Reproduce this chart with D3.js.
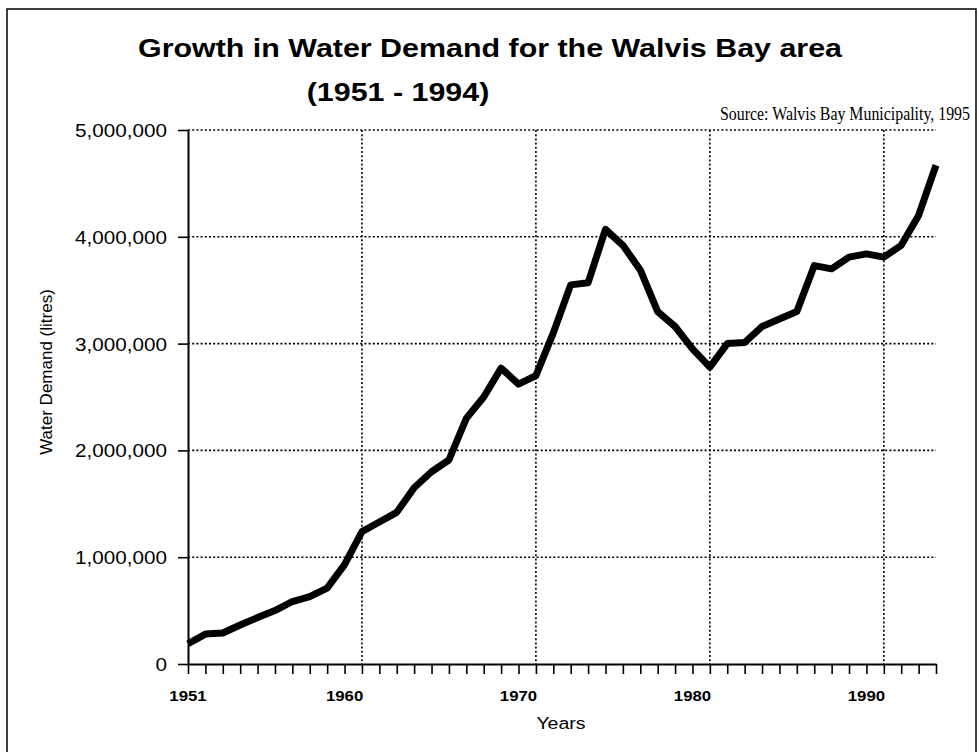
<!DOCTYPE html>
<html>
<head>
<meta charset="utf-8">
<script src="https://cdn.jsdelivr.net/npm/d3@7"></script>
<style>
  body { margin: 0; background: #fff; }
  svg { display: block; }
  text { fill: #000; }
</style>
</head>
<body>
<div id="chart"></div>
<script>
// Water demand, Walvis Bay, litres
var years = d3.range(1951, 1995);
var demand = [
  190000, 280000, 290000, 365000, 435000, 500000, 585000, 630000, 710000, 930000,
  1240000, 1330000, 1420000, 1650000, 1800000, 1910000, 2300000, 2500000, 2770000, 2620000,
  2700000, 3100000, 3550000, 3570000, 4070000, 3920000, 3690000, 3300000, 3160000, 2950000,
  2780000, 3000000, 3010000, 3160000, 3230000, 3300000, 3730000, 3700000, 3810000, 3840000,
  3810000, 3920000, 4200000, 4670000
];
var yTicks = [0, 1000000, 2000000, 3000000, 4000000, 5000000];
var xLabels = [1951, 1960, 1970, 1980, 1990];
var xGrid = [1961, 1971, 1981, 1991];

var width = 979, height = 752;

var svg = d3
  .select("#chart")
  .append("svg")
  .attr("width", width)
  .attr("height", height);

// outer frame
svg
  .append("rect")
  .attr("x", 7)
  .attr("y", 9)
  .attr("width", 969)
  .attr("height", 800)
  .attr("fill", "none")
  .attr("stroke", "#000")
  .attr("stroke-width", 1.5);

var x = d3
  .scalePoint()
  .domain(years)
  .range([188, 936]);

var y = d3
  .scaleLinear()
  .domain([0, 5000000])
  .range([664, 130]);

// the scan is stretched sideways, so text is too
function label(txt, px, py, opts) {
  var t = svg
    .append("text")
    .attr("transform", "translate(" + px + "," + py + ")" + (opts.rotate ? " rotate(-90)" : "") + " scale(" + (opts.sx || 1) + "," + (opts.sy || 1) + ")")
    .attr("text-anchor", opts.anchor || "middle")
    .attr("font-family", opts.family || "'Liberation Sans', Arial, sans-serif")
    .attr("font-size", opts.size)
    .attr("font-weight", opts.weight || "normal")
    .text(txt);
  if (opts.len) t.attr("textLength", opts.len).attr("lengthAdjust", "spacingAndGlyphs");
  return t;
}

// gridlines
var grid = svg.append("g").attr("class", "grid");
grid
  .selectAll("line.h")
  .data(yTicks.slice(1))
  .enter()
  .append("line")
  .attr("x1", x(1951))
  .attr("x2", x(1994))
  .attr("y1", function(d) { return y(d); })
  .attr("y2", function(d) { return y(d); })
  .attr("stroke", "#000")
  .attr("stroke-width", 1.6)
  .attr("stroke-dasharray", "2,2.2");
grid
  .selectAll("line.v")
  .data(xGrid)
  .enter()
  .append("line")
  .attr("x1", function(d) { return x(d); })
  .attr("x2", function(d) { return x(d); })
  .attr("y1", y(5000000))
  .attr("y2", y(0))
  .attr("stroke", "#000")
  .attr("stroke-width", 1.6)
  .attr("stroke-dasharray", "2,2.2");

// X axis
var xAxis = svg
  .append("g")
  .attr("transform", "translate(0," + y(0) + ")")
  .call(d3.axisBottom(x).tickSize(10).tickSizeOuter(0).tickFormat(""));
xAxis.select(".domain").attr("stroke-width", 2);
xAxis.selectAll(".tick line").attr("stroke-width", 1.6);

// Y axis
var yAxis = svg
  .append("g")
  .attr("transform", "translate(" + x(1951) + ",0)")
  .call(d3.axisLeft(y).tickValues(yTicks).tickSize(10).tickSizeOuter(0).tickFormat(""));
yAxis.select(".domain").attr("stroke-width", 2);
yAxis.selectAll(".tick line").attr("stroke-width", 1.6);

// tick labels
yTicks.forEach(function(v) {
  label(d3.format(",")(v), 167, y(v) + 7, { size: 18, sx: 1.15, anchor: "end" });
});
xLabels.forEach(function(yr) {
  label(String(yr), x(yr), 701, { size: 14, weight: "bold", sx: 1.2 });
});

// the line
var line = d3
  .line()
  .x(function(d, i) { return x(years[i]); })
  .y(function(d) { return y(d); });
svg
  .append("path")
  .datum(demand)
  .attr("d", line)
  .attr("fill", "none")
  .attr("stroke", "#000")
  .attr("stroke-width", 7)
  .attr("stroke-linejoin", "round");

// titles
label("Growth in Water Demand for the Walvis Bay area", 490, 57, { size: 26, weight: "bold", sx: 1.17 });
label("(1951 - 1994)", 398, 101, { size: 26, weight: "bold", sx: 1.17 });
label("Source: Walvis Bay Municipality, 1995", 970, 120, { size: 16, sy: 1.18, anchor: "end", family: "'Liberation Serif', 'Times New Roman', serif", len: 250 });
label("Years", 561, 729, { size: 17, sx: 1.15 });
label("Water Demand (litres)", 52, 372, { size: 17, rotate: true });
</script>
</body>
</html>
